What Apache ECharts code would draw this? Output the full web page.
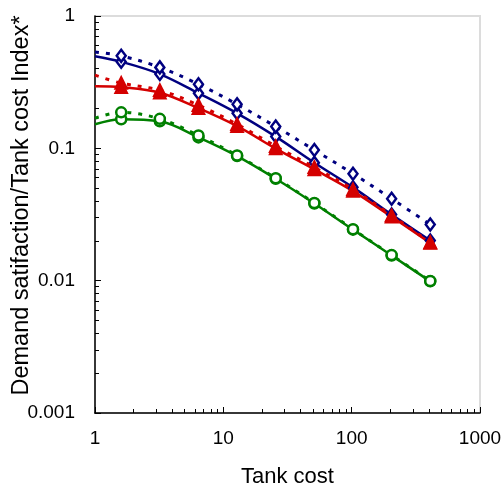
<!DOCTYPE html>
<html><head><meta charset="utf-8">
<script src="https://cdn.jsdelivr.net/npm/echarts@6/dist/echarts.min.js"></script>
<style>html,body{margin:0;padding:0;background:#fff}#c{width:504px;height:496px}</style>
</head><body><div id="c"></div>
<script>
// x positions (first point x=1 is curve start, no marker)
var tankCost = [1, 1.6, 3.2, 6.4, 12.8, 25.6, 51.2, 102.4, 204.8, 409.6];
var navySolid  = [0.497, 0.451, 0.364, 0.261, 0.184, 0.1227, 0.0779, 0.0507, 0.0316, 0.0201];
var navyDotted = [0.534, 0.500, 0.409, 0.305, 0.215, 0.146, 0.0971, 0.0643, 0.0416, 0.0266];
var redSolid   = [0.295, 0.290, 0.263, 0.201, 0.147, 0.0995, 0.0693, 0.0475, 0.0304, 0.0193];
var redDotted  = [0.357, 0.311, 0.275, 0.212, 0.152, 0.1036, 0.0718, 0.0489, 0.0311, 0.0194];
var greenSolid = [0.152, 0.166, 0.160, 0.121, 0.0874, 0.0589, 0.0383, 0.0243, 0.0155, 0.00988];
var greenDotted= [0.169, 0.187, 0.167, 0.125, 0.0884, 0.0595, 0.0386, 0.0245, 0.0156, 0.00995];
var xMajorTicks = [1, 10, 100, 1000];
var yMajorTicks = [0.001, 0.01, 0.1, 1];
var xMinorTicks = [2,3,4,5,6,7,8,9,20,30,40,50,60,70,80,90,200,300,400,500,600,700,800,900];
var yMinorTicks = [0.002,0.003,0.004,0.005,0.006,0.007,0.008,0.009,0.02,0.03,0.04,0.05,0.06,0.07,0.08,0.09,0.2,0.3,0.4,0.5,0.6,0.7,0.8,0.9];

function pts(arr){
  return tankCost.map(function(x,i){
    var d = {value:[x, arr[i]]};
    if(i===0){ d.symbol='none'; }
    return d;
  });
}
var NAVY='#000080', RED='#d40000', GREEN='#008000';
function mk(name, arr, color, symbol, size, dotted, fill){
  return {
    type:'line', name:name, data:pts(arr), xAxisIndex:0, yAxisIndex:0,
    smooth: 0.35,
    symbol:symbol, symbolSize:size, showSymbol:true,
    lineStyle:{color:color, width: dotted?3:2.5, type: dotted?[4,7]:'solid', cap:'butt'},
    itemStyle:{color: fill, borderColor:color, borderWidth:2.5},
    emphasis:{disabled:true}, animation:false, z: dotted?3:2
  };
}
var font = 'Liberation Sans, Arial, sans-serif';
var chart = echarts.init(document.getElementById('c'));
chart.setOption({
  animation:false,
  grid:{left:95, right:24, top:16, bottom:83, outerBoundsMode:'none', containLabel:false,
        show:true, borderColor:'#dcdcdc', borderWidth:2, backgroundColor:'transparent'},
  xAxis:[{
    type:'log', logBase:10, min:1, max:1000, position:'bottom',
    name:'Tank cost', nameLocation:'middle', nameGap:53, nameMoveOverlap:false,
    nameTextStyle:{fontFamily:font, fontSize:22, color:'#000'},
    axisLine:{show:true, lineStyle:{color:'#000', width:1.5}},
    axisTick:{show:true, inside:true, length:6, lineStyle:{color:'#000', width:1}, customValues:xMajorTicks},
    axisLabel:{fontFamily:font, fontSize:19, color:'#000', margin:16, customValues:xMajorTicks,
      formatter:function(v){return String(v);}},
    splitLine:{show:false}
  },{
    type:'log', logBase:10, min:1, max:1000, position:'bottom', gridIndex:0,
    axisLine:{show:false},
    axisTick:{show:true, inside:true, length:4, lineStyle:{color:'#000', width:1}, customValues:xMinorTicks},
    axisLabel:{show:false},
    splitLine:{show:false}
  }],
  yAxis:[{
    type:'log', logBase:10, min:0.001, max:1, position:'left',
    name:'Demand satifaction/Tank cost Index*', nameLocation:'middle', nameGap:61, nameMoveOverlap:false,
    nameTextStyle:{fontFamily:font, fontSize:23.5, color:'#000', padding:[0,0,0,18]},
    axisLine:{show:true, lineStyle:{color:'#000', width:1.5}},
    axisTick:{show:true, inside:true, length:6, lineStyle:{color:'#000', width:1}, customValues:yMajorTicks},
    axisLabel:{fontFamily:font, fontSize:19, color:'#000', margin:20, customValues:yMajorTicks,
      formatter:function(v){return String(v);}},
    splitLine:{show:false}
  },{
    type:'log', logBase:10, min:0.001, max:1, position:'left', gridIndex:0,
    axisLine:{show:false},
    axisTick:{show:true, inside:true, length:4, lineStyle:{color:'#000', width:1}, customValues:yMinorTicks},
    axisLabel:{show:false},
    splitLine:{show:false}
  }],
  series:[
    mk('navy fit', navySolid, NAVY, 'diamond', [9,12], false, '#fff'),
    mk('navy dotted', navyDotted, NAVY, 'diamond', [9,12], true, '#fff'),
    mk('red fit', redSolid, RED, 'triangle', [11,11], false, RED),
    mk('red dotted', redDotted, RED, 'triangle', [11,11], true, RED),
    mk('green fit', greenSolid, GREEN, 'circle', 10, false, '#fff'),
    mk('green dotted', greenDotted, GREEN, 'circle', 10, true, '#fff')
  ]
});
</script></body></html>
